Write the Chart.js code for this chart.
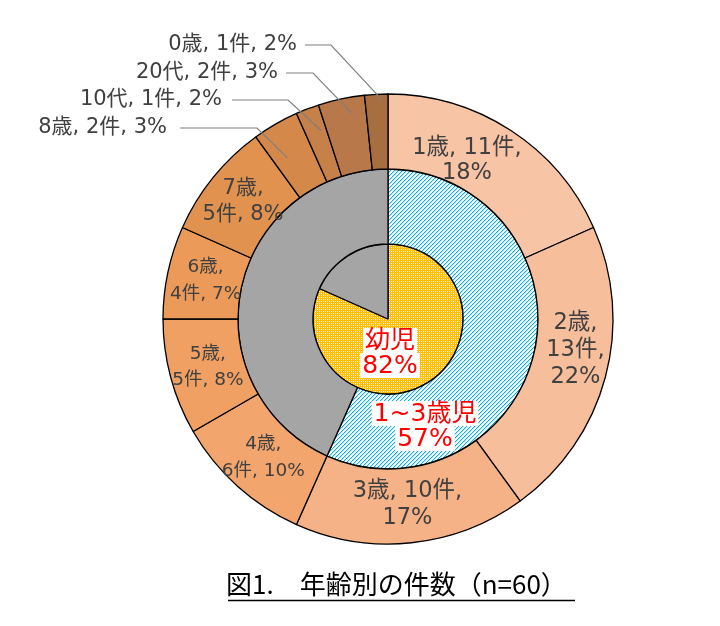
<!DOCTYPE html>
<html><head><meta charset="utf-8">
<script src="https://cdn.jsdelivr.net/npm/chart.js@4.4.0/dist/chart.umd.min.js"></script>
<style>html,body{margin:0;padding:0;background:#fff;}canvas{display:block;}</style>
</head><body>
<canvas id="c" width="720" height="626"></canvas>
<script>
// ---- data ----
const ageCategories = ['1歳','2歳','3歳','4歳','5歳','6歳','7歳','8歳','10代','20代','0歳'];
const ageCounts = [11, 13, 10, 6, 5, 4, 5, 2, 1, 2, 1];
const agePercents = [18, 22, 17, 10, 8, 7, 8, 3, 2, 3, 2];
const toddlerGroups = ['1~3歳児', 'その他'];
const toddlerCounts = [34, 26];
const toddlerPercents = [57, 43];
const infantGroups = ['幼児', 'その他'];
const infantCounts = [49, 11];
const infantPercents = [82, 18];
const chartTitle = '図1.　年齢別の件数（n=60）';

// ---- styles ----
const ageColors = ['#F8C4A6','#F7BE9C','#F5B287','#F2A56C','#EFA062','#EB9A59','#E1924F','#D4894A','#C68049','#B87849','#A76E40'];
const GRAY = '#A5A5A5';
const LABEL_FONT = '"DejaVu Sans", "Noto Sans CJK JP", sans-serif';
// label layout: font size, line breaks (after which comma), placement tweaks
const insideLayout = {
  0: {size: 22.5, lh: 25, breaks: [1], dAng: -6.5, r: 177},
  1: {size: 22.5, lh: 27, breaks: [0, 1], dAng: -5.5, r: 190},
  2: {size: 22.5, lh: 27, breaks: [1]},
  3: {size: 18.5, lh: 27, breaks: [0]},
  4: {size: 18.5, lh: 26, breaks: [0]},
  5: {size: 18.5, lh: 27, breaks: [0]},
  6: {size: 21, lh: 26, breaks: [0]}
};
const outsideLayout = {
  7:  {tx: 167, ty: 128, lx0: 180, lx1: 257, r: 190, dAng: -2},
  8:  {tx: 222, ty: 100, lx0: 232, lx1: 288, r: 200, dAng: 1.5},
  9:  {tx: 278, ty: 73,  lx0: 286, lx1: 313, r: 209, dAng: 2},
  10: {tx: 297, ty: 45,  lx0: 305, lx1: 331, r: 219, dAng: 1.5}
};

const ctx = document.getElementById('c').getContext('2d');

function makeHatch() {
  const c = document.createElement('canvas'); c.width = 4; c.height = 4;
  const g = c.getContext('2d');
  g.fillStyle = '#fff'; g.fillRect(0, 0, 4, 4);
  for (let x = 0; x < 4; x++) for (let y = 0; y < 4; y++) {
    const k = (x + y) % 4;
    if (k === 0) { g.fillStyle = '#00B0F0'; g.fillRect(x, y, 1, 1); }
    if (k === 1) { g.fillStyle = '#B5E7FA'; g.fillRect(x, y, 1, 1); }
  }
  return ctx.createPattern(c, 'repeat');
}
function makeDots() {
  const c = document.createElement('canvas'); c.width = 4; c.height = 4;
  const g = c.getContext('2d');
  g.fillStyle = '#FFC000'; g.fillRect(0, 0, 4, 4);
  g.fillStyle = '#FFFFFF'; g.fillRect(1, 1, 1, 1); g.fillRect(3, 3, 1, 1);
  g.fillStyle = '#FFE699'; g.fillRect(3, 1, 1, 1); g.fillRect(1, 3, 1, 1);
  return ctx.createPattern(c, 'repeat');
}

function splitLabel(parts, breaks) {
  const lines = []; let cur = '';
  parts.forEach((p, i) => {
    cur += p;
    if (i < parts.length - 1) {
      cur += ',';
      if (breaks.includes(i)) { lines.push(cur); cur = ''; } else cur += ' ';
    }
  });
  lines.push(cur);
  return lines;
}

const labelPlugin = {
  id: 'ringLabels',
  afterDatasetsDraw(chart) {
    const c = chart.ctx;
    c.save();
    const meta0 = chart.getDatasetMeta(0);
    meta0.data.forEach((arc, i) => {
      const p = arc.getProps(['x','y','startAngle','endAngle','innerRadius','outerRadius'], true);
      const mid = (p.startAngle + p.endAngle) / 2;
      const parts = [ageCategories[i], ageCounts[i] + '件', agePercents[i] + '%'];
      if (insideLayout[i]) {
        const L = insideLayout[i];
        const a = mid + (L.dAng || 0) * Math.PI / 180;
        const r = L.r || (p.innerRadius + p.outerRadius) / 2 - 1;
        const cx = p.x + r * Math.cos(a), cy = p.y + r * Math.sin(a);
        const lines = splitLabel(parts, L.breaks);
        c.font = L.size + 'px ' + LABEL_FONT;
        c.fillStyle = '#404040'; c.textAlign = 'center'; c.textBaseline = 'middle';
        lines.forEach((t, k) => c.fillText(t, cx, cy + (k - (lines.length - 1) / 2) * L.lh));
      } else if (outsideLayout[i]) {
        const L = outsideLayout[i];
        const a = mid + (L.dAng || 0) * Math.PI / 180;
        const ax = p.x + L.r * Math.cos(a), ay = p.y + L.r * Math.sin(a);
        c.strokeStyle = '#7F7F7F'; c.lineWidth = 1.2;
        c.beginPath(); c.moveTo(L.lx0, L.ty); c.lineTo(L.lx1, L.ty); c.lineTo(ax, ay); c.stroke();
        c.font = '21px ' + LABEL_FONT;
        c.fillStyle = '#404040'; c.textAlign = 'right'; c.textBaseline = 'middle';
        c.fillText(parts.join(', '), L.tx, L.ty);
      }
    });
    // red group labels
    const center = chart.getDatasetMeta(2).data[0];
    const cp = center.getProps(['x','y'], true);
    const red = [
      {lines: [infantGroups[0], infantPercents[0] + '%'], dx: 2, dy: 34},
      {lines: [toddlerGroups[0], toddlerPercents[0] + '%'], dx: 37, dy: 107}
    ];
    c.font = '25px ' + LABEL_FONT;
    c.textAlign = 'center'; c.textBaseline = 'middle';
    red.forEach(R => {
      const lh = 25;
      R.lines.forEach((t, k) => {
        const x = cp.x + R.dx, y = cp.y + R.dy + (k - 0.5) * lh;
        const w = c.measureText(t).width + 4;
        c.fillStyle = '#FFFFFF';
        c.fillRect(x - w / 2, y - lh / 2, w, lh);
      });
      R.lines.forEach((t, k) => {
        const x = cp.x + R.dx, y = cp.y + R.dy + (k - 0.5) * lh;
        c.fillStyle = '#FF0000';
        c.fillText(t, x, y + 1);
      });
    });
    c.restore();
  },
  afterDraw(chart) {
    const c = chart.ctx;
    c.save();
    c.font = '26px "Noto Sans CJK JP", sans-serif';
    c.fillStyle = '#000'; c.textAlign = 'left'; c.textBaseline = 'middle';
    c.fillText(chartTitle, 226, 584);
    c.strokeStyle = '#000'; c.lineWidth = 1.6;
    c.beginPath(); c.moveTo(228, 600.5); c.lineTo(575, 600.5); c.stroke();
    c.restore();
  }
};

new Chart(ctx, {
  type: 'doughnut',
  data: {
    labels: ageCategories,
    datasets: [
      {data: ageCounts, backgroundColor: ageColors, borderColor: '#000', borderWidth: 1.3},
      {data: toddlerCounts, backgroundColor: [makeHatch(), GRAY], borderColor: '#000', borderWidth: 1.3},
      {data: infantCounts, backgroundColor: [makeDots(), GRAY], borderColor: '#000', borderWidth: 1.3}
    ]
  },
  options: {
    responsive: false,
    devicePixelRatio: 1,
    animation: false,
    events: [],
    cutout: 0,
    radius: 225,
    layout: {padding: {left: 163, top: 94, right: 107, bottom: 82}},
    plugins: {legend: {display: false}, tooltip: {enabled: false}, title: {display: false}}
  },
  plugins: [labelPlugin]
});
</script>
</body></html>
